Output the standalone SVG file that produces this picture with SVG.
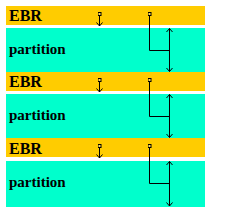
<svg xmlns="http://www.w3.org/2000/svg" width="236" height="213" viewBox="0 0 236 213">
<style>
.ebr{fill:#FFCC00}
.part{fill:#00FFCC}
.t{font-family:"Liberation Serif","Times New Roman",serif;font-weight:bold;fill:#000}
.te{font-size:16px}
.tp{font-size:15px}
.c{fill:none;stroke:#000;stroke-width:1}
</style>
<defs>
<marker id="ah" viewBox="-4 -4 5 8" refX="0" refY="0" markerWidth="5" markerHeight="8" markerUnits="userSpaceOnUse" orient="auto-start-reverse">
<path d="M-3.5,-3 L0,0 L-3.5,3" fill="none" stroke="#000" stroke-width="1"/>
</marker>
<marker id="sq" viewBox="-2 -2 4 4" refX="0" refY="0" markerWidth="4" markerHeight="4" markerUnits="userSpaceOnUse">
<rect x="-1.5" y="-1.5" width="3" height="3" fill="#FFE060" stroke="#000" stroke-width="1"/>
</marker>
</defs>
<rect width="236" height="213" fill="#fff"/>
<g id="ebr1"><rect class="ebr" x="6" y="6" width="199" height="19"/><text class="t te" x="9" y="21">EBR</text></g>
<g id="partition1"><rect class="part" x="6" y="28" width="199" height="44"/><text class="t tp" x="9" y="54">partition</text></g>
<g id="ebr2"><rect class="ebr" x="6" y="72" width="199" height="19"/><text class="t te" x="9" y="87">EBR</text></g>
<g id="partition2"><rect class="part" x="6" y="94" width="199" height="44"/><text class="t tp" x="9" y="120">partition</text></g>
<g id="ebr3"><rect class="ebr" x="6" y="138" width="199" height="19"/><text class="t te" x="9" y="154">EBR</text></g>
<g id="partition3"><rect class="part" x="6" y="161" width="199" height="46"/><text class="t tp" x="9" y="187">partition</text></g>
<g id="connectors">
<path class="c" d="M99.5,14 V26" marker-start="url(#sq)" marker-end="url(#ah)"/>
<path class="c" d="M149.5,14 V50.5 H169.5" marker-start="url(#sq)"/>
<path class="c" d="M169.5,28.5 V71.5" marker-start="url(#ah)" marker-end="url(#ah)"/>
<path class="c" d="M99.5,80 V92" marker-start="url(#sq)" marker-end="url(#ah)"/>
<path class="c" d="M149.5,80 V116.5 H169.5" marker-start="url(#sq)"/>
<path class="c" d="M169.5,94.5 V137.5" marker-start="url(#ah)" marker-end="url(#ah)"/>
<path class="c" d="M99.5,146 V158" marker-start="url(#sq)" marker-end="url(#ah)"/>
<path class="c" d="M149.5,146 V183.5 H169.5" marker-start="url(#sq)"/>
<path class="c" d="M169.5,161.5 V206" marker-start="url(#ah)" marker-end="url(#ah)"/>
</g>
</svg>
